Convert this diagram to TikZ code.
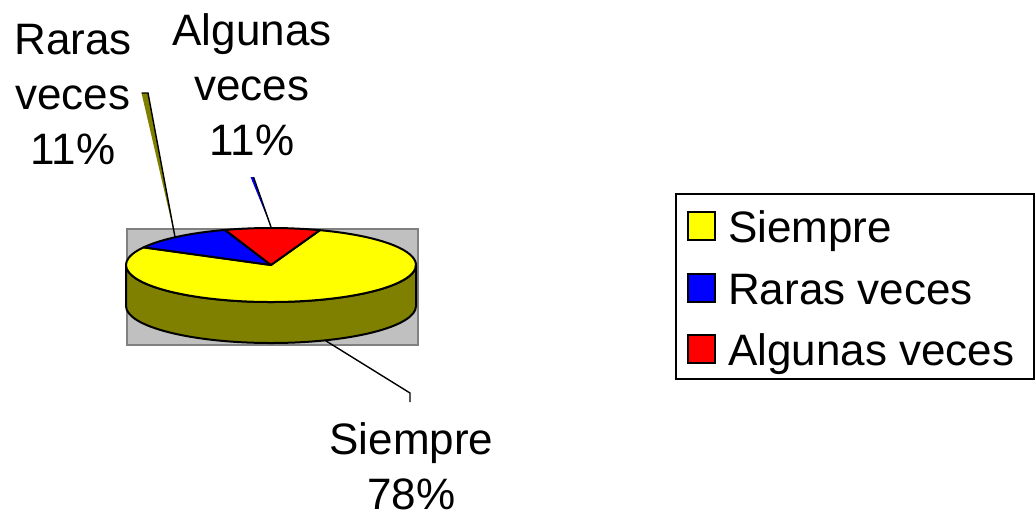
\documentclass[tikz,border=0pt]{standalone}
\usepackage{fontspec}
\setmainfont{Liberation Sans}
\usetikzlibrary{calc}
\definecolor{pieyellow}{RGB}{255,255,0}
\definecolor{pieblue}{RGB}{0,0,255}
\definecolor{piered}{RGB}{255,0,0}
\definecolor{pieolive}{RGB}{128,128,0}
\definecolor{plotgray}{RGB}{192,192,192}
\definecolor{plotedge}{RGB}{128,128,128}
\begin{document}
\begin{tikzpicture}[x=1pt,y=1pt,
  pieedge/.style={draw=black, line width=2pt, line join=round},
  leader/.style={draw=black, line width=1.4pt},
  lbl/.style={font=\fontsize{44}{55}\selectfont, align=center, inner sep=0pt, anchor=north},
  legtext/.style={font=\fontsize{44}{55}\selectfont, inner sep=0pt, anchor=base west},
  swatch/.style={draw=black, line width=1.4pt, minimum width=27pt, minimum height=28pt, inner sep=0pt},
  ell/.style={x radius=145, y radius=37}]
\useasboundingbox (0,0) rectangle (1036,-515);

% plot area
\node[fill=plotgray, draw=plotedge, line width=1.5pt, inner sep=0pt, minimum width=291pt, minimum height=116pt, anchor=north west] (plot) at (126,-228) {};

\coordinate (C) at (271,-265);
% side wall
\draw[pieedge, fill=pieolive] ($(C)+(180:145 and 37)$) arc[start angle=180, end angle=360, ell] -- ++(0,-41) arc[start angle=360, end angle=180, ell] -- cycle;
% top slices
\draw[pieedge, fill=pieyellow] (C) -- ($(C)+(151.5:145 and 37)$) arc[start angle=151.5, end angle=430.3, ell] -- cycle;
\draw[pieedge, fill=pieblue] (C) -- ($(C)+(108.5:145 and 37)$) arc[start angle=108.5, end angle=151.5, ell] -- cycle;
\draw[pieedge, fill=piered] (C) -- ($(C)+(70.3:145 and 37)$) arc[start angle=70.3, end angle=108.5, ell] -- cycle;

% labels
\node[lbl] (lraras) at (73,-24) {Raras\\veces\\11\%};
\node[lbl] (lalg) at (252,-13) {Algunas\\veces\\11\%};
\node[lbl] (lsiem) at (411.5,-422) {Siempre\\78\%};

% leader lines
\coordinate (rTopL) at (141.5,-93);
\coordinate (rTopR) at (148,-93);
\coordinate (rEnd) at (175,-237);
\fill[pieolive] (rTopL) -- (rTopR) -- (rEnd) -- cycle;
\draw[leader] (rTopL) -- (rTopR) -- (rEnd);

\coordinate (aTopL) at (250.5,-177);
\coordinate (aTopR) at (253.5,-177);
\coordinate (aEnd) at (271,-227);
\fill[pieblue] (aTopL) -- (aTopR) -- (aEnd) -- cycle;
\draw[leader] (aTopR) -- (aEnd);

\coordinate (sStart) at (325,-340.3);
\coordinate (sBend) at (410,-393);
\coordinate (sEnd) at (410,-402);
\draw[leader] (sStart) -- (sBend) -- (sEnd);

% legend
\node[draw=black, line width=1.5pt, inner sep=0pt, minimum width=358pt, minimum height=185pt, anchor=north west] (legend) at (675,-193) {};
\node[swatch, fill=pieyellow] (swY) at (701.5,-226) {};
\node[swatch, fill=pieblue] (swB) at (701.5,-288) {};
\node[swatch, fill=piered] (swR) at (701.5,-349) {};
\node[legtext] (tY) at (728,-242) {Siempre};
\node[legtext] (tB) at (728,-304) {Raras veces};
\node[legtext] (tR) at (728,-365) {Algunas veces};
\end{tikzpicture}
\end{document}
